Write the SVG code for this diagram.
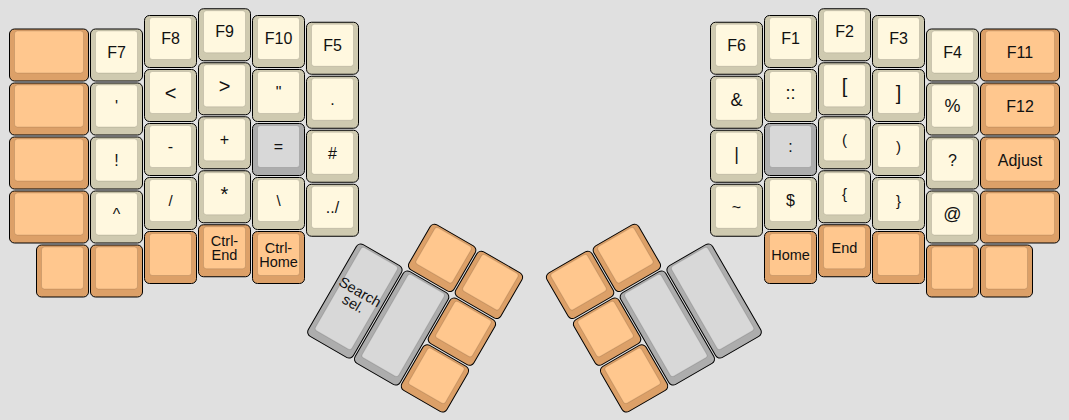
<svg xmlns="http://www.w3.org/2000/svg" width="1069" height="420" viewBox="0 0 1069 420">
<style>
.o{stroke:#000;stroke-width:1}
.i{stroke:rgba(0,0,0,0.12);stroke-width:1}
.cr .o{fill:#cfcab0}.cr .i{fill:#fff8df}
.or .o{fill:#dca068}.or .i{fill:#ffc78e}
.gy .o{fill:#adadad}.gy .i{fill:#d8d8d8}
text{font-family:"Liberation Sans",Arial,Helvetica,sans-serif;font-size:16px;fill:#111;text-anchor:middle}
.s14{font-size:14.5px}
.s15{font-size:15px}
.s18{font-size:18px}
.s20{font-size:20px}
</style>
<rect width="1069" height="420" fill="#e0e0e0"/>
<g id="left-hand">
<g id="l-c0r0" class="or" transform="translate(8.5,28)"><rect class="o" x="1" y="1" width="79" height="52" rx="5"/><rect class="i" x="6" y="3" width="69" height="42" rx="3"/></g>
<g id="l-c0r1" class="or" transform="translate(8.5,82)"><rect class="o" x="1" y="1" width="79" height="52" rx="5"/><rect class="i" x="6" y="3" width="69" height="42" rx="3"/></g>
<g id="l-c0r2" class="or" transform="translate(8.5,136)"><rect class="o" x="1" y="1" width="79" height="52" rx="5"/><rect class="i" x="6" y="3" width="69" height="42" rx="3"/></g>
<g id="l-c0r3" class="or" transform="translate(8.5,190)"><rect class="o" x="1" y="1" width="79" height="52" rx="5"/><rect class="i" x="6" y="3" width="69" height="42" rx="3"/></g>
<g id="l-b0" class="or" transform="translate(35.5,244)"><rect class="o" x="1" y="1" width="52" height="52" rx="5"/><rect class="i" x="6" y="3" width="42" height="42" rx="3"/></g>
<g id="l-b1" class="or" transform="translate(89.5,244)"><rect class="o" x="1" y="1" width="52" height="52" rx="5"/><rect class="i" x="6" y="3" width="42" height="42" rx="3"/></g>

<g id="key-f7" class="cr" transform="translate(89.5,28)"><rect class="o" x="1" y="1" width="52" height="52" rx="5"/><rect class="i" x="6" y="3" width="42" height="42" rx="3"/><text x="27" y="29.6">F7</text></g>
<g id="key-quote" class="cr" transform="translate(89.5,82)"><rect class="o" x="1" y="1" width="52" height="52" rx="5"/><rect class="i" x="6" y="3" width="42" height="42" rx="3"/><text x="27" y="29.6">'</text></g>
<g id="key-excl" class="cr" transform="translate(89.5,136)"><rect class="o" x="1" y="1" width="52" height="52" rx="5"/><rect class="i" x="6" y="3" width="42" height="42" rx="3"/><text x="27" y="29.6">!</text></g>
<g id="key-caret" class="cr" transform="translate(89.5,190)"><rect class="o" x="1" y="1" width="52" height="52" rx="5"/><rect class="i" x="6" y="3" width="42" height="42" rx="3"/><text x="27" y="29.6">^</text></g>

<g id="key-f8" class="cr" transform="translate(143.5,14.5)"><rect class="o" x="1" y="1" width="52" height="52" rx="5"/><rect class="i" x="6" y="3" width="42" height="42" rx="3"/><text x="27" y="29.6">F8</text></g>
<g id="key-lt" class="cr" transform="translate(143.5,68.5)"><rect class="o" x="1" y="1" width="52" height="52" rx="5"/><rect class="i" x="6" y="3" width="42" height="42" rx="3"/><text class="s20" x="27" y="31">&lt;</text></g>
<g id="key-minus" class="cr" transform="translate(143.5,122.5)"><rect class="o" x="1" y="1" width="52" height="52" rx="5"/><rect class="i" x="6" y="3" width="42" height="42" rx="3"/><text x="27" y="29.6">-</text></g>
<g id="key-slash" class="cr" transform="translate(143.5,176.5)"><rect class="o" x="1" y="1" width="52" height="52" rx="5"/><rect class="i" x="6" y="3" width="42" height="42" rx="3"/><text class="s15" x="27" y="29.3">/</text></g>
<g id="l-c2b" class="or" transform="translate(143.5,230.5)"><rect class="o" x="1" y="1" width="52" height="52" rx="5"/><rect class="i" x="6" y="3" width="42" height="42" rx="3"/></g>

<g id="key-f9" class="cr" transform="translate(197.5,7.75)"><rect class="o" x="1" y="1" width="52" height="52" rx="5"/><rect class="i" x="6" y="3" width="42" height="42" rx="3"/><text x="27" y="29.6">F9</text></g>
<g id="key-gt" class="cr" transform="translate(197.5,61.75)"><rect class="o" x="1" y="1" width="52" height="52" rx="5"/><rect class="i" x="6" y="3" width="42" height="42" rx="3"/><text class="s20" x="27" y="31">&gt;</text></g>
<g id="key-plus" class="cr" transform="translate(197.5,115.75)"><rect class="o" x="1" y="1" width="52" height="52" rx="5"/><rect class="i" x="6" y="3" width="42" height="42" rx="3"/><text x="27" y="29.6">+</text></g>
<g id="key-star" class="cr" transform="translate(197.5,169.75)"><rect class="o" x="1" y="1" width="52" height="52" rx="5"/><rect class="i" x="6" y="3" width="42" height="42" rx="3"/><text class="s20" x="27" y="31">*</text></g>
<g id="key-ctrl-end" class="or" transform="translate(197.5,223.75)"><rect class="o" x="1" y="1" width="52" height="52" rx="5"/><rect class="i" x="6" y="3" width="42" height="42" rx="3"/><text class="s14" x="27" y="22.5">Ctrl-</text><text class="s14" x="27" y="36">End</text></g>

<g id="key-f10" class="cr" transform="translate(251.5,14.5)"><rect class="o" x="1" y="1" width="52" height="52" rx="5"/><rect class="i" x="6" y="3" width="42" height="42" rx="3"/><text x="27" y="29.6">F10</text></g>
<g id="key-dquote" class="cr" transform="translate(251.5,68.5)"><rect class="o" x="1" y="1" width="52" height="52" rx="5"/><rect class="i" x="6" y="3" width="42" height="42" rx="3"/><text x="27" y="29.6">"</text></g>
<g id="key-equal" class="gy" transform="translate(251.5,122.5)"><rect class="o" x="1" y="1" width="52" height="52" rx="5"/><rect class="i" x="6" y="3" width="42" height="42" rx="3"/><text x="27" y="29.6">=</text></g>
<g id="key-bslash" class="cr" transform="translate(251.5,176.5)"><rect class="o" x="1" y="1" width="52" height="52" rx="5"/><rect class="i" x="6" y="3" width="42" height="42" rx="3"/><text class="s15" x="27" y="29.3">\</text></g>
<g id="key-ctrl-home" class="or" transform="translate(251.5,230.5)"><rect class="o" x="1" y="1" width="52" height="52" rx="5"/><rect class="i" x="6" y="3" width="42" height="42" rx="3"/><text class="s14" x="27" y="22.5">Ctrl-</text><text class="s14" x="27" y="36">Home</text></g>

<g id="key-f5" class="cr" transform="translate(305.5,21.25)"><rect class="o" x="1" y="1" width="52" height="52" rx="5"/><rect class="i" x="6" y="3" width="42" height="42" rx="3"/><text x="27" y="29.6">F5</text></g>
<g id="key-dot" class="cr" transform="translate(305.5,75.25)"><rect class="o" x="1" y="1" width="52" height="52" rx="5"/><rect class="i" x="6" y="3" width="42" height="42" rx="3"/><text x="27" y="29.6">.</text></g>
<g id="key-hash" class="cr" transform="translate(305.5,129.25)"><rect class="o" x="1" y="1" width="52" height="52" rx="5"/><rect class="i" x="6" y="3" width="42" height="42" rx="3"/><text x="27" y="29.6">#</text></g>
<g id="key-dotdot" class="cr" transform="translate(305.5,183.25)"><rect class="o" x="1" y="1" width="52" height="52" rx="5"/><rect class="i" x="6" y="3" width="42" height="42" rx="3"/><text x="27" y="29.6">../</text></g>
</g>

<g id="left-thumb" transform="translate(385.5,194) rotate(30)">
<g id="lt-o1" class="or" transform="translate(54,0)"><rect class="o" x="1" y="1" width="52" height="52" rx="5"/><rect class="i" x="6" y="3" width="42" height="42" rx="3"/></g>
<g id="lt-o2" class="or" transform="translate(108,0)"><rect class="o" x="1" y="1" width="52" height="52" rx="5"/><rect class="i" x="6" y="3" width="42" height="42" rx="3"/></g>
<g id="lt-o3" class="or" transform="translate(108,54)"><rect class="o" x="1" y="1" width="52" height="52" rx="5"/><rect class="i" x="6" y="3" width="42" height="42" rx="3"/></g>
<g id="lt-o4" class="or" transform="translate(108,108)"><rect class="o" x="1" y="1" width="52" height="52" rx="5"/><rect class="i" x="6" y="3" width="42" height="42" rx="3"/></g>
<g id="key-search-sel" class="gy" transform="translate(0,54)"><rect class="o" x="1" y="1" width="52" height="106" rx="5"/><rect class="i" x="6" y="3" width="42" height="96" rx="3"/><text class="s14" x="27" y="48.5">Search</text><text class="s14" x="27" y="62">sel.</text></g>
<g id="lt-g2" class="gy" transform="translate(54,54)"><rect class="o" x="1" y="1" width="52" height="106" rx="5"/><rect class="i" x="6" y="3" width="42" height="96" rx="3"/></g>
</g>

<g id="right-hand">
<g id="key-f6" class="cr" transform="translate(709.5,21.25)"><rect class="o" x="1" y="1" width="52" height="52" rx="5"/><rect class="i" x="6" y="3" width="42" height="42" rx="3"/><text x="27" y="29.6">F6</text></g>
<g id="key-amp" class="cr" transform="translate(709.5,75.25)"><rect class="o" x="1" y="1" width="52" height="52" rx="5"/><rect class="i" x="6" y="3" width="42" height="42" rx="3"/><text class="s18" x="27" y="30.3">&amp;</text></g>
<g id="key-pipe" class="cr" transform="translate(709.5,129.25)"><rect class="o" x="1" y="1" width="52" height="52" rx="5"/><rect class="i" x="6" y="3" width="42" height="42" rx="3"/><text class="s18" x="27" y="30.3">|</text></g>
<g id="key-tilde" class="cr" transform="translate(709.5,183.25)"><rect class="o" x="1" y="1" width="52" height="52" rx="5"/><rect class="i" x="6" y="3" width="42" height="42" rx="3"/><text x="27" y="29.6">~</text></g>

<g id="key-f1" class="cr" transform="translate(763.5,14.5)"><rect class="o" x="1" y="1" width="52" height="52" rx="5"/><rect class="i" x="6" y="3" width="42" height="42" rx="3"/><text x="27" y="29.6">F1</text></g>
<g id="key-dcolon" class="cr" transform="translate(763.5,68.5)"><rect class="o" x="1" y="1" width="52" height="52" rx="5"/><rect class="i" x="6" y="3" width="42" height="42" rx="3"/><text class="s18" x="27" y="30.3">::</text></g>
<g id="key-colon" class="gy" transform="translate(763.5,122.5)"><rect class="o" x="1" y="1" width="52" height="52" rx="5"/><rect class="i" x="6" y="3" width="42" height="42" rx="3"/><text x="27" y="29.6">:</text></g>
<g id="key-dollar" class="cr" transform="translate(763.5,176.5)"><rect class="o" x="1" y="1" width="52" height="52" rx="5"/><rect class="i" x="6" y="3" width="42" height="42" rx="3"/><text x="27" y="29.6">$</text></g>
<g id="key-home" class="or" transform="translate(763.5,230.5)"><rect class="o" x="1" y="1" width="52" height="52" rx="5"/><rect class="i" x="6" y="3" width="42" height="42" rx="3"/><text class="s14" x="27" y="29.5">Home</text></g>

<g id="key-f2" class="cr" transform="translate(817.5,7.75)"><rect class="o" x="1" y="1" width="52" height="52" rx="5"/><rect class="i" x="6" y="3" width="42" height="42" rx="3"/><text x="27" y="29.6">F2</text></g>
<g id="key-lbrack" class="cr" transform="translate(817.5,61.75)"><rect class="o" x="1" y="1" width="52" height="52" rx="5"/><rect class="i" x="6" y="3" width="42" height="42" rx="3"/><text class="s20" x="27" y="31">[</text></g>
<g id="key-lparen" class="cr" transform="translate(817.5,115.75)"><rect class="o" x="1" y="1" width="52" height="52" rx="5"/><rect class="i" x="6" y="3" width="42" height="42" rx="3"/><text class="s15" x="27" y="29.3">(</text></g>
<g id="key-lbrace" class="cr" transform="translate(817.5,169.75)"><rect class="o" x="1" y="1" width="52" height="52" rx="5"/><rect class="i" x="6" y="3" width="42" height="42" rx="3"/><text class="s15" x="27" y="29.3">{</text></g>
<g id="key-end" class="or" transform="translate(817.5,223.75)"><rect class="o" x="1" y="1" width="52" height="52" rx="5"/><rect class="i" x="6" y="3" width="42" height="42" rx="3"/><text class="s14" x="27" y="29.5">End</text></g>

<g id="key-f3" class="cr" transform="translate(871.5,14.5)"><rect class="o" x="1" y="1" width="52" height="52" rx="5"/><rect class="i" x="6" y="3" width="42" height="42" rx="3"/><text x="27" y="29.6">F3</text></g>
<g id="key-rbrack" class="cr" transform="translate(871.5,68.5)"><rect class="o" x="1" y="1" width="52" height="52" rx="5"/><rect class="i" x="6" y="3" width="42" height="42" rx="3"/><text class="s20" x="27" y="31">]</text></g>
<g id="key-rparen" class="cr" transform="translate(871.5,122.5)"><rect class="o" x="1" y="1" width="52" height="52" rx="5"/><rect class="i" x="6" y="3" width="42" height="42" rx="3"/><text class="s15" x="27" y="29.3">)</text></g>
<g id="key-rbrace" class="cr" transform="translate(871.5,176.5)"><rect class="o" x="1" y="1" width="52" height="52" rx="5"/><rect class="i" x="6" y="3" width="42" height="42" rx="3"/><text class="s15" x="27" y="29.3">}</text></g>
<g id="r-c3b" class="or" transform="translate(871.5,230.5)"><rect class="o" x="1" y="1" width="52" height="52" rx="5"/><rect class="i" x="6" y="3" width="42" height="42" rx="3"/></g>

<g id="key-f4" class="cr" transform="translate(925.5,28)"><rect class="o" x="1" y="1" width="52" height="52" rx="5"/><rect class="i" x="6" y="3" width="42" height="42" rx="3"/><text x="27" y="29.6">F4</text></g>
<g id="key-pct" class="cr" transform="translate(925.5,82)"><rect class="o" x="1" y="1" width="52" height="52" rx="5"/><rect class="i" x="6" y="3" width="42" height="42" rx="3"/><text class="s18" x="27" y="30.3">%</text></g>
<g id="key-quest" class="cr" transform="translate(925.5,136)"><rect class="o" x="1" y="1" width="52" height="52" rx="5"/><rect class="i" x="6" y="3" width="42" height="42" rx="3"/><text x="27" y="29.6">?</text></g>
<g id="key-at" class="cr" transform="translate(925.5,190)"><rect class="o" x="1" y="1" width="52" height="52" rx="5"/><rect class="i" x="6" y="3" width="42" height="42" rx="3"/><text class="s18" x="27" y="30.3">@</text></g>
<g id="r-b0" class="or" transform="translate(925.5,244)"><rect class="o" x="1" y="1" width="52" height="52" rx="5"/><rect class="i" x="6" y="3" width="42" height="42" rx="3"/></g>

<g id="key-f11" class="or" transform="translate(979.5,28)"><rect class="o" x="1" y="1" width="79" height="52" rx="5"/><rect class="i" x="6" y="3" width="69" height="42" rx="3"/><text x="40.5" y="29.6">F11</text></g>
<g id="key-f12" class="or" transform="translate(979.5,82)"><rect class="o" x="1" y="1" width="79" height="52" rx="5"/><rect class="i" x="6" y="3" width="69" height="42" rx="3"/><text x="40.5" y="29.6">F12</text></g>
<g id="key-adjust" class="or" transform="translate(979.5,136)"><rect class="o" x="1" y="1" width="79" height="52" rx="5"/><rect class="i" x="6" y="3" width="69" height="42" rx="3"/><text x="40.5" y="29.6">Adjust</text></g>
<g id="r-c5r3" class="or" transform="translate(979.5,190)"><rect class="o" x="1" y="1" width="79" height="52" rx="5"/><rect class="i" x="6" y="3" width="69" height="42" rx="3"/></g>
<g id="r-b1" class="or" transform="translate(979.5,244)"><rect class="o" x="1" y="1" width="52" height="52" rx="5"/><rect class="i" x="6" y="3" width="42" height="42" rx="3"/></g>
</g>

<g id="right-thumb" transform="translate(543.2,275) rotate(-30)">
<g id="rt-o1" class="or" transform="translate(0,0)"><rect class="o" x="1" y="1" width="52" height="52" rx="5"/><rect class="i" x="6" y="3" width="42" height="42" rx="3"/></g>
<g id="rt-o2" class="or" transform="translate(54,0)"><rect class="o" x="1" y="1" width="52" height="52" rx="5"/><rect class="i" x="6" y="3" width="42" height="42" rx="3"/></g>
<g id="rt-o3" class="or" transform="translate(0,54)"><rect class="o" x="1" y="1" width="52" height="52" rx="5"/><rect class="i" x="6" y="3" width="42" height="42" rx="3"/></g>
<g id="rt-o4" class="or" transform="translate(0,108)"><rect class="o" x="1" y="1" width="52" height="52" rx="5"/><rect class="i" x="6" y="3" width="42" height="42" rx="3"/></g>
<g id="rt-g1" class="gy" transform="translate(54,54)"><rect class="o" x="1" y="1" width="52" height="106" rx="5"/><rect class="i" x="6" y="3" width="42" height="96" rx="3"/></g>
<g id="rt-g2" class="gy" transform="translate(108,54)"><rect class="o" x="1" y="1" width="52" height="106" rx="5"/><rect class="i" x="6" y="3" width="42" height="96" rx="3"/></g>
</g>
</svg>
